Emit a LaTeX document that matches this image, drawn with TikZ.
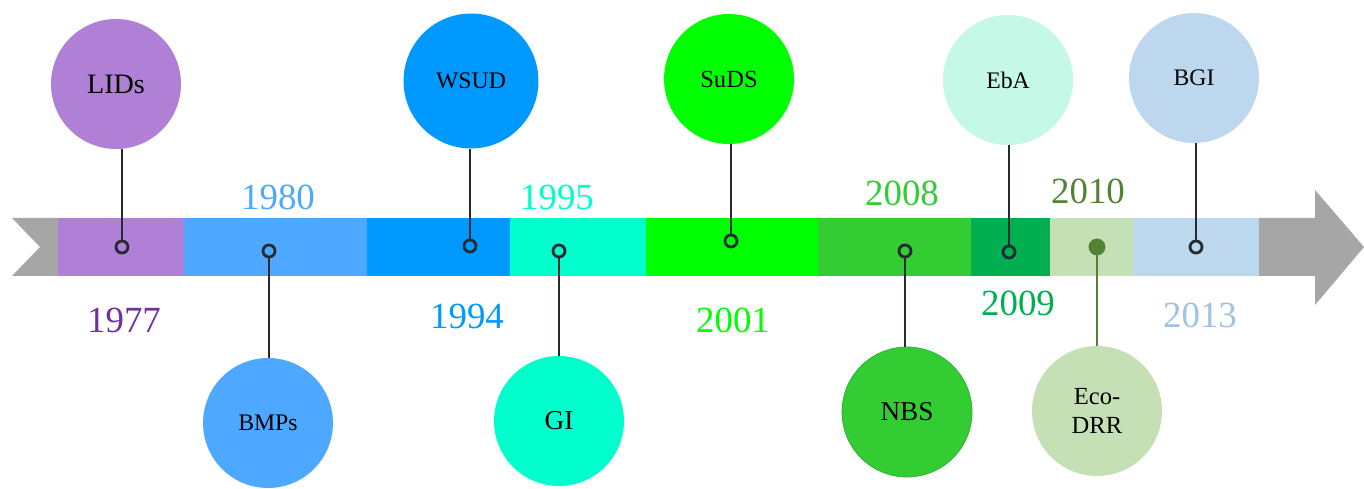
\documentclass[tikz,border=0pt]{standalone}
\usepackage{fontspec}
\setmainfont{Liberation Serif}
\usepackage{xcolor}
\usetikzlibrary{positioning}
\definecolor{bandgray}{HTML}{A6A6A6}
\definecolor{pinline}{HTML}{262A33}
\definecolor{lidpurple}{HTML}{B07FD6}
\definecolor{lidyear}{HTML}{7030A0}
\definecolor{bmpblue}{HTML}{4FA8FF}
\definecolor{wsudblue}{HTML}{0099FF}
\definecolor{gicyan}{HTML}{00FFCC}
\definecolor{sudsgreen}{HTML}{00FF00}
\definecolor{nbsgreen}{HTML}{33CC33}
\definecolor{ebagreen}{HTML}{00B050}
\definecolor{ecolight}{HTML}{C5E0B4}
\definecolor{ecodark}{HTML}{548235}
\definecolor{bgiblue}{HTML}{BDD7EE}
\definecolor{bgiyear}{HTML}{9DC3E6}
\definecolor{ebamint}{HTML}{C6F8E8}

\begin{document}
\begin{tikzpicture}[
    x=0.02cm, y=-0.02cm,
    bubble/.style={circle, minimum size=2.6cm, inner sep=0pt, align=center, font=\fontsize{13.5}{15}\selectfont},
    dot/.style={circle, draw=pinline, line width=1.6pt, minimum size=0.24cm, inner sep=0pt},
    pin/.style={draw=pinline, line width=1.6pt},
    year/.style={inner sep=0pt, font=\fontsize{21}{24}\selectfont}
]
    \useasboundingbox (0,0) rectangle (1364,489);

    % Band
    \fill[bandgray] (12,218) -- (58,218) -- (58,276) -- (12,276) -- (40,247) -- cycle;
    \fill[bandgray] (1259,218) -- (1315,218) -- (1315,190) -- (1364,247)
        -- (1315,305) -- (1315,276) -- (1259,276) -- cycle;
    \foreach \xa/\xb/\col in {58/184/lidpurple, 184/367/bmpblue, 367/510/wsudblue,
        510/646/gicyan, 646/818/sudsgreen, 818/971/nbsgreen, 971/1050/ebagreen,
        1050/1133/ecolight, 1133/1259/bgiblue}
        \fill[\col] (\xa,218) rectangle (\xb,276);

    % Bubbles above
    \node[bubble, fill=lidpurple, font=\fontsize{16}{18}\selectfont] (lids) at (116,84) {LIDs};
    \node[bubble, fill=wsudblue, minimum size=2.7cm] (wsud) at (471,81) {WSUD};
    \node[bubble, fill=sudsgreen, font=\fontsize{14}{16}\selectfont] (suds) at (729,79) {SuDS};
    \node[bubble, fill=ebamint] (eba) at (1008,80) {EbA};
    \node[bubble, fill=bgiblue] (bgi) at (1194,78) {BGI};

    % Bubbles below
    \node[bubble, fill=bmpblue] (bmps) at (268,423) {BMPs};
    \node[bubble, fill=gicyan, font=\fontsize{15.5}{17}\selectfont] (gi) at (559,421) {GI};
    \node[bubble, fill=nbsgreen, draw=nbsgreen!85!black, thin, font=\fontsize{15.5}{17}\selectfont] (nbs) at (907,412) {NBS};
    \node[bubble, fill=ecolight, font=\fontsize{14}{17}\selectfont] (ecodrr) at (1097,411) {Eco-\\DRR};

    % Dots on the band
    \node[dot, fill=lidpurple] (lidsdot) at (122,247) {};
    \node[dot, fill=bmpblue] (bmpsdot) at (269,251) {};
    \node[dot, fill=wsudblue] (wsuddot) at (470,246) {};
    \node[dot, fill=gicyan] (gidot) at (559,251) {};
    \node[dot, fill=sudsgreen] (sudsdot) at (731,241) {};
    \node[dot, fill=nbsgreen] (nbsdot) at (905,251) {};
    \node[dot, fill=ebagreen] (ebadot) at (1009,252) {};
    \node[dot, draw=ecodark, fill=ecodark, minimum size=0.28cm] (ecodrrdot) at (1097,247) {};
    \node[dot, fill=bgiblue] (bgidot) at (1196,247) {};

    % Pins
    \draw[pin] (lidsdot) -- (lidsdot |- lids.south);
    \draw[pin] (bmpsdot) -- (bmpsdot |- bmps.north);
    \draw[pin] (wsuddot) -- (wsuddot |- wsud.south);
    \draw[pin] (gidot) -- (gidot |- gi.north);
    \draw[pin] (sudsdot) -- (sudsdot |- suds.south);
    \draw[pin] (nbsdot) -- (nbsdot |- nbs.north);
    \draw[pin] (ebadot) -- (ebadot |- eba.south);
    \draw[pin, draw=ecodark] (ecodrrdot) -- (ecodrrdot |- ecodrr.north);
    \draw[pin] (bgidot) -- (bgidot |- bgi.south);

    % Years
    \node[year, text=lidyear] (y1977) at (124,320) {1977};
    \node[year, text=bmpblue] (y1980) at (278,197) {1980};
    \node[year, text=wsudblue] (y1994) at (467,316) {1994};
    \node[year, text=gicyan] (y1995) at (557,197) {1995};
    \node[year, text=sudsgreen] (y2001) at (733,320) {2001};
    \node[year, text=nbsgreen] (y2008) at (902,193) {2008};
    \node[year, text=ebagreen] (y2009) at (1018,303) {2009};
    \node[year, text=ecodark] (y2010) at (1088,191) {2010};
    \node[year, text=bgiyear] (y2013) at (1200,315) {2013};
\end{tikzpicture}
\end{document}
